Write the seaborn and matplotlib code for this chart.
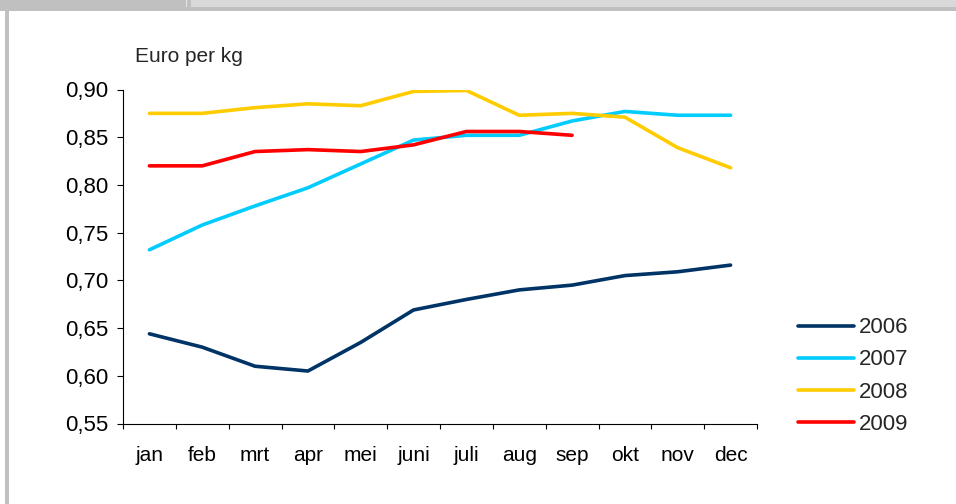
"""
Monthly price in euro per kg, 2006-2009.
Recreates the old Excel chart look: grey window frame, legend at the right.
"""

import matplotlib
matplotlib.use("Agg")
import matplotlib.pyplot as plt
from matplotlib.patches import Rectangle
from matplotlib.ticker import FixedLocator, FuncFormatter
import pandas as pd
import seaborn as sns

MONTHS = ["jan", "feb", "mrt", "apr", "mei", "juni",
          "juli", "aug", "sep", "okt", "nov", "dec"]

PRICE_2006 = [0.644, 0.630, 0.610, 0.605, 0.635, 0.669,
              0.680, 0.690, 0.695, 0.705, 0.709, 0.716]
PRICE_2007 = [0.732, 0.758, 0.778, 0.797, 0.822, 0.847,
              0.852, 0.852, 0.867, 0.877, 0.873, 0.873]
PRICE_2008 = [0.875, 0.875, 0.881, 0.885, 0.883, 0.898,
              0.899, 0.873, 0.875, 0.871, 0.839, 0.818]
PRICE_2009 = [0.820, 0.820, 0.835, 0.837, 0.835, 0.842,
              0.856, 0.856, 0.852]

YEARS = ["2006", "2007", "2008", "2009"]
COLORS = ["#003366", "#00CCFF", "#FFCC00", "#FF0000"]

Y_TICKS = [0.55, 0.60, 0.65, 0.70, 0.75, 0.80, 0.85, 0.90]


def build_frame() -> pd.DataFrame:
    rows = []
    for year, values in zip(YEARS, [PRICE_2006, PRICE_2007, PRICE_2008, PRICE_2009]):
        for month, v in zip(MONTHS, values):
            rows.append({"maand": month, "prijs": v, "jaar": year})
    return pd.DataFrame(rows)


def main() -> None:
    sns.set_style("white")
    plt.rcParams["font.family"] = ["Liberation Sans", "DejaVu Sans"]

    W, H = 956, 504
    fig = plt.figure(figsize=(W / 100, H / 100), dpi=100)

    # window chrome around the chart
    fig.patches.append(Rectangle((0, 1 - 11 / H), 1, 11 / H, transform=fig.transFigure,
                                 facecolor="#C0C0C0", edgecolor="none", zorder=0))
    fig.patches.append(Rectangle((191 / W, 1 - 7 / H), 1, 7 / H, transform=fig.transFigure,
                                 facecolor="#D9D9D9", edgecolor="none", zorder=1))
    fig.patches.append(Rectangle((186 / W, 1 - 7 / H), 1 / W, 7 / H, transform=fig.transFigure,
                                 facecolor="#E6E6E6", edgecolor="none", zorder=1))
    fig.patches.append(Rectangle((5 / W, 0), 4 / W, 1, transform=fig.transFigure,
                                 facecolor="#C0C0C0", edgecolor="none", zorder=0))

    ax = fig.add_axes([123 / W, 1 - 423.5 / H, (757 - 123) / W, (423.5 - 89.5) / H])

    df = build_frame()
    sns.lineplot(data=df, x="maand", y="prijs", hue="jaar",
                 palette=dict(zip(YEARS, COLORS)), hue_order=YEARS,
                 linewidth=2.6, sort=False, ax=ax)

    ax.set_xlim(-0.5, len(MONTHS) - 0.5)
    ax.set_ylim(0.55, 0.90)
    ax.set_xlabel("")
    ax.set_ylabel("")

    ax.yaxis.set_major_locator(FixedLocator(Y_TICKS))
    ax.yaxis.set_major_formatter(FuncFormatter(lambda v, _: f"{v:.2f}".replace(".", ",")))
    ax.set_xticks(range(len(MONTHS)))
    ax.set_xticklabels(MONTHS)
    ax.set_xticks([i - 0.5 for i in range(len(MONTHS) + 1)], minor=True)

    for side in ["top", "right"]:
        ax.spines[side].set_visible(False)
    for side in ["left", "bottom"]:
        ax.spines[side].set_color("black")
        ax.spines[side].set_linewidth(0.8)

    ax.tick_params(axis="y", which="major", left=True, length=4.5, width=0.8,
                   direction="out", pad=6, labelsize=16, colors="black")
    ax.tick_params(axis="x", which="major", bottom=True, length=0, pad=16,
                   labelsize=15, colors="black")
    ax.tick_params(axis="x", which="minor", bottom=True, length=3.5, width=0.8,
                   direction="out", color="black")

    fig.text(135 / W, 1 - 57 / H, "Euro per kg", fontsize=15, va="center", ha="left")

    handles, labels = ax.get_legend_handles_labels()
    ax.get_legend().remove()
    fig.legend(handles, labels, loc="center left",
               bbox_to_anchor=(798 / W, 1 - 376 / H),
               frameon=False, fontsize=16, handlelength=2.5, handletextpad=0.25,
               labelspacing=0.5, borderpad=0, borderaxespad=0)

    fig.savefig("out.png", dpi=100)
    plt.close(fig)


if __name__ == "__main__":
    main()
